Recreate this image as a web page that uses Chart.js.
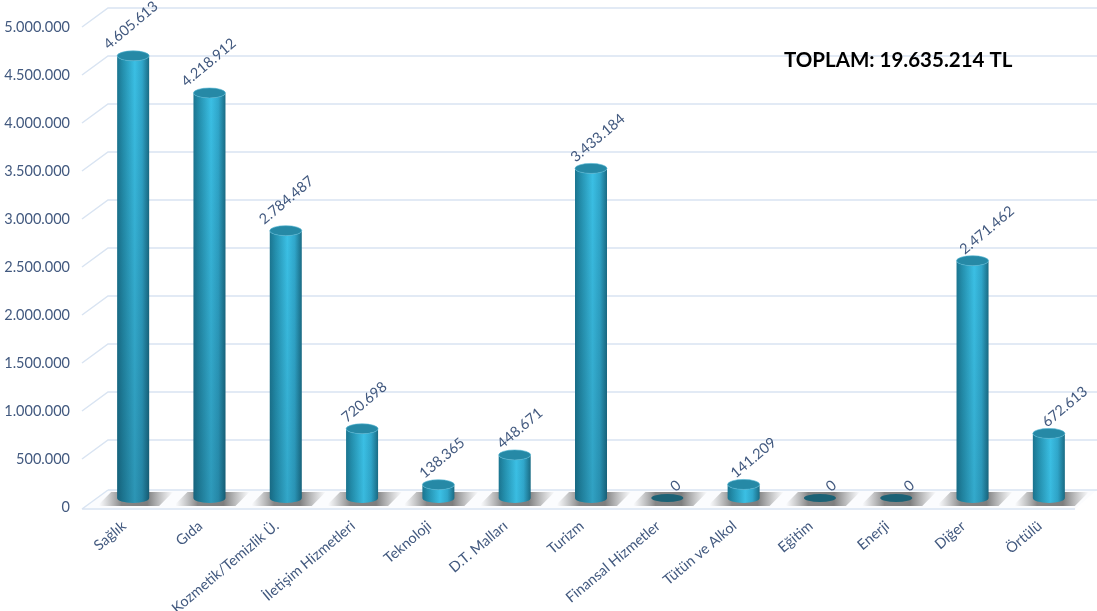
<!DOCTYPE html>
<html>
<head>
<meta charset="utf-8">
<script src="https://cdn.jsdelivr.net/npm/chart.js@4.4.0/dist/chart.umd.min.js"></script>
<style>
  html, body { margin: 0; padding: 0; background: #fff; }
  #wrap { width: 1097px; height: 611px; }
</style>
</head>
<body>
<div id="wrap"><canvas id="reklamChart"></canvas></div>
<script>
// Sektörler ve tutarlar (TL)
const categories = ['Sağlık', 'Gıda', 'Kozmetik/Temizlik Ü.', 'İletişim Hizmetleri', 'Teknoloji', 'D.T. Malları',
    'Turizm', 'Finansal Hizmetler', 'Tütün ve Alkol', 'Eğitim', 'Enerji', 'Diğer', 'Örtülü'];
const amounts = [4605613, 4218912, 2784487, 720698, 138365, 448671, 3433184, 0, 141209, 0, 0, 2471462, 672613];
const yMax = 5000000;
const yStep = 500000;
const totalLabel = 'TOPLAM: 19.635.214 TL';

const FONT = 'Lato, "Liberation Sans", sans-serif';
const TEXT_COLOR = '#42597f';
const DEPTH_X = 26;   // back wall offset
const DEPTH_Y = 19;
const LIFT = 9;       // bars sit in the middle of the floor
const ANGLE = -40 * Math.PI / 180;

function fmt(v) {
    return String(v).replace(/\B(?=(\d{3})+(?!\d))/g, '.');
}

// gridlines, floor and shadows behind the bars
const backdrop = {
    id: 'backdrop',
    beforeDatasetsDraw(chart) {
        const ctx = chart.ctx;
        const y = chart.scales.y;
        const x = chart.scales.x;
        const left = chart.chartArea.left - 13;
        const right = chart.width;
        ctx.save();
        ctx.strokeStyle = '#d9e4f2';
        ctx.lineWidth = 1.5;
        y.ticks.forEach(t => {
            if (t.value === 0) return;
            const py = y.getPixelForValue(t.value);
            ctx.beginPath();
            ctx.moveTo(left, py);
            ctx.lineTo(left + DEPTH_X, py - DEPTH_Y);
            ctx.lineTo(right, py - DEPTH_Y);
            ctx.stroke();
        });
        // floor
        const fy = y.getPixelForValue(0) + 2;
        const frontRight = chart.chartArea.right - 12;
        ctx.beginPath();
        ctx.moveTo(left, fy);
        ctx.lineTo(frontRight, fy);
        ctx.lineTo(frontRight + DEPTH_X - 4, fy - DEPTH_Y);
        ctx.lineTo(left + DEPTH_X, fy - DEPTH_Y);
        ctx.closePath();
        ctx.fillStyle = '#fbfcfe';
        ctx.fill();
        // shadows
        categories.forEach((c, i) => {
            const cx = x.getPixelForValue(i);
            const y0 = fy - 3, y1 = fy - DEPTH_Y + 2;
            const g = ctx.createLinearGradient(cx - 34, 0, cx + 40, 0);
            g.addColorStop(0, 'rgba(120,120,120,0)');
            g.addColorStop(0.3, 'rgba(95,95,95,0.75)');
            g.addColorStop(0.65, 'rgba(95,95,95,0.8)');
            g.addColorStop(1, 'rgba(120,120,120,0)');
            ctx.beginPath();
            ctx.moveTo(cx - 36, y0);
            ctx.lineTo(cx + 26, y0);
            ctx.lineTo(cx + 40, y1);
            ctx.lineTo(cx - 22, y1);
            ctx.closePath();
            ctx.fillStyle = g;
            ctx.fill();
        });
        ctx.beginPath();
        ctx.moveTo(left + DEPTH_X, fy - DEPTH_Y);
        ctx.lineTo(right, fy - DEPTH_Y);
        ctx.moveTo(left, fy);
        ctx.lineTo(frontRight, fy);
        ctx.moveTo(left, fy);
        ctx.lineTo(left + DEPTH_X, fy - DEPTH_Y);
        ctx.stroke();
        ctx.restore();
    }
};

// cylinders, value labels, category labels and total
const cylinders = {
    id: 'cylinders',
    afterDatasetsDraw(chart) {
        const ctx = chart.ctx;
        const meta = chart.getDatasetMeta(0);
        const xs = chart.scales.x;
        const ry = 5;
        ctx.save();
        meta.data.forEach((el, i) => {
            const rx = el.width / 2;
            const cx = el.x;
            const top = el.y - LIFT;
            const bot = el.base - LIFT;
            if (amounts[i] === 0) {
                ctx.beginPath();
                ctx.ellipse(cx, bot, rx, 4, 0, 0, Math.PI * 2);
                ctx.fillStyle = '#1b6276';
                ctx.fill();
                return;
            }
            const body = new Path2D();
            body.moveTo(cx - rx, top);
            body.lineTo(cx - rx, bot);
            body.ellipse(cx, bot, rx, ry, 0, Math.PI, 0, true);
            body.lineTo(cx + rx, top);
            body.ellipse(cx, top, rx, ry, 0, 0, Math.PI, false);
            body.closePath();
            const g = ctx.createLinearGradient(cx - rx, 0, cx + rx, 0);
            g.addColorStop(0, '#1b7590');
            g.addColorStop(0.18, '#2490ae');
            g.addColorStop(0.55, '#3bc0e5');
            g.addColorStop(0.78, '#30a7cb');
            g.addColorStop(1, '#1a6c85');
            ctx.fillStyle = g;
            ctx.fill(body);
            const h = bot - top;
            const shade = ctx.createLinearGradient(0, top, 0, bot + ry);
            shade.addColorStop(0, 'rgba(10,50,70,0)');
            shade.addColorStop(1, 'rgba(10,50,70,' + (0.3 * h / 440).toFixed(3) + ')');
            ctx.fillStyle = shade;
            ctx.fill(body);
            ctx.beginPath();
            ctx.ellipse(cx, top, rx, ry, 0, 0, Math.PI * 2);
            ctx.fillStyle = '#2689a6';
            ctx.fill();
            ctx.strokeStyle = 'rgba(80,180,210,0.6)';
            ctx.lineWidth = 1;
            ctx.stroke();
        });

        // value labels
        ctx.font = '14.5px ' + FONT;
        ctx.fillStyle = TEXT_COLOR;
        ctx.textAlign = 'center';
        ctx.textBaseline = 'middle';
        meta.data.forEach((el, i) => {
            const txt = fmt(amounts[i]);
            const w = ctx.measureText(txt).width;
            const bh = w * Math.sin(-ANGLE) + 14 * Math.cos(ANGLE);
            const top = el.y - LIFT;
            const lx = el.x + (el.x - 250) * 0.02;
            const ly = top - 4 - bh / 2;
            ctx.save();
            ctx.translate(lx, ly);
            ctx.rotate(ANGLE);
            ctx.fillText(txt, 0, 0);
            ctx.restore();
        });

        // category labels
        ctx.font = '14.5px ' + FONT;
        ctx.textAlign = 'right';
        categories.forEach((c, i) => {
            const px = xs.getPixelForValue(i);
            ctx.save();
            ctx.translate(px - 9, 524);
            ctx.rotate(ANGLE);
            ctx.fillText(c, 0, 0);
            ctx.restore();
        });

        // total
        ctx.font = 'bold 20.5px ' + FONT;
        ctx.fillStyle = '#000';
        ctx.textAlign = 'left';
        ctx.textBaseline = 'alphabetic';
        ctx.fillText(totalLabel, 784, 67);
        ctx.restore();
    }
};

new Chart(document.getElementById('reklamChart'), {
    type: 'bar',
    data: {
        labels: categories,
        datasets: [{
            data: amounts,
            backgroundColor: 'rgba(0,0,0,0)',
            barThickness: 32
        }]
    },
    options: {
        responsive: true,
        maintainAspectRatio: false,
        animation: false,
        layout: { padding: { top: 27, right: 10, left: 0, bottom: 0 } },
        plugins: { legend: { display: false }, tooltip: { enabled: false } },
        scales: {
            x: {
                grid: { display: false },
                border: { display: false },
                ticks: { display: false },
                afterFit(scale) { scale.height = 104; }
            },
            y: {
                min: 0,
                max: yMax,
                grid: { display: false, drawTicks: false },
                border: { display: false },
                ticks: {
                    stepSize: yStep,
                    padding: 25,
                    color: TEXT_COLOR,
                    font: { family: FONT, size: 14.5 },
                    callback: v => fmt(v)
                },
                afterFit(scale) {
                    scale.width = 95;
                    // tick padding would otherwise push the plot top down
                    scale.paddingTop = 9;
                }
            }
        }
    },
    plugins: [backdrop, cylinders]
});
</script>
</body>
</html>
